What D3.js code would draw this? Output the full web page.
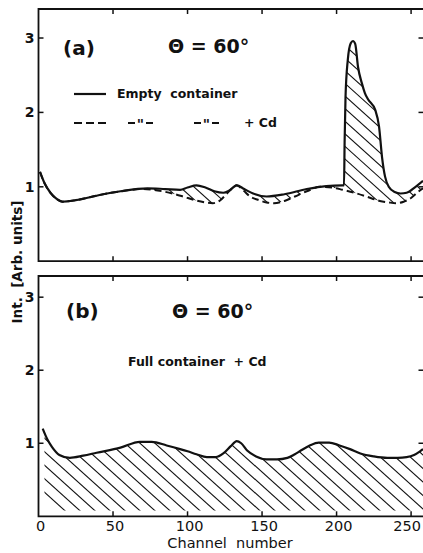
<!DOCTYPE html>
<html>
<head>
<meta charset="utf-8">
<script src="https://cdn.jsdelivr.net/npm/d3@7"></script>
<style>
  body { margin: 0; background: #fff; }
  text { font-family: 'DejaVu Sans', sans-serif; fill: #111; }
</style>
</head>
<body>
<svg id="chart" width="423" height="553"></svg>
<script>
// (a) empty container, solid curve
var emptyCh  = [1, 4, 8, 12, 16, 25, 41, 55, 73, 85, 95, 100, 106, 112, 118, 124, 128, 133, 138, 144, 153, 165, 180, 193, 204,
                205, 205.4, 206, 207.5, 209.5, 211, 212.5, 214.4, 217, 219, 221, 226, 228.5, 230.5, 232.5, 235, 239, 243, 247, 253, 258];
var emptyVal = [1.20, 1.05, 0.92, 0.84, 0.80, 0.82, 0.89, 0.94, 0.98, 0.97, 0.96, 0.99, 1.02, 0.99, 0.94, 0.92, 0.95, 1.02, 0.97, 0.91, 0.87, 0.90, 0.97, 1.01, 1.02,
                1.02, 1.60, 2.20, 2.70, 2.93, 2.96, 2.92, 2.61, 2.39, 2.26, 2.18, 2.03, 1.81, 1.40, 1.14, 1.00, 0.93, 0.91, 0.92, 1.00, 1.08];
// (a) empty container + Cd, dashed curve
var cdCh  = [1, 4, 8, 12, 16, 25, 41, 55, 70, 80, 90, 97, 105, 112, 117, 122, 126, 130, 133, 137, 142, 148, 153, 158, 165, 172, 180, 189, 197, 204, 212, 220, 229, 235, 240, 245, 250, 254, 258];
var cdVal = [1.20, 1.05, 0.92, 0.84, 0.80, 0.82, 0.89, 0.94, 0.97, 0.95, 0.91, 0.87, 0.82, 0.79, 0.78, 0.82, 0.90, 0.98, 1.02, 0.96, 0.87, 0.82, 0.79, 0.78, 0.81, 0.87, 0.94, 1.00, 0.99, 0.96, 0.92, 0.87, 0.81, 0.79, 0.78, 0.80, 0.85, 0.92, 0.98];
// (b) full container + Cd
var fullCh  = [2.8, 6, 9, 14, 21, 30, 39, 55, 68, 76, 86, 95, 100, 106, 113, 119, 124, 129, 133, 136, 140, 146, 153, 160, 167, 172, 176, 182, 188, 195, 202, 209, 216, 225, 234, 241, 247, 252, 256, 258];
var fullVal = [1.20, 1.05, 0.95, 0.84, 0.80, 0.83, 0.87, 0.94, 1.02, 1.02, 0.97, 0.92, 0.89, 0.85, 0.81, 0.81, 0.86, 0.96, 1.03, 1.00, 0.90, 0.82, 0.78, 0.78, 0.80, 0.85, 0.90, 0.97, 1.01, 1.01, 0.97, 0.92, 0.86, 0.82, 0.80, 0.80, 0.81, 0.84, 0.89, 0.92];

var xTicks = [0, 50, 100, 150, 200, 250];
var yTicks = [1, 2, 3];

var svg = d3.select('#chart');
var x = d3.scaleLinear().domain([0, 259]).range([38.5, 424.5]);
var yA = d3.scaleLinear().domain([0, 3.39]).range([261.2, 9]);
var yB = d3.scaleLinear().domain([0, 3.29]).range([516.3, 276]);
var sp = '\u00a0';

function pts(ch, val){ return ch.map(function(c, i){ return [c, val[i]]; }); }

function drawFrame(y, showXLabels){
  var g = svg.append('g');
  var r = y.range();
  g.append('path')
    .attr('d', 'M' + x.range()[1] + ',' + r[1] + 'H' + x(0) + 'V' + r[0] + 'H' + x.range()[1])
    .attr('fill', 'none').attr('stroke', '#111').attr('stroke-width', 1.8);
  xTicks.filter(function(t){ return t > 0; }).forEach(function(t){
    g.append('line').attr('x1', x(t)).attr('x2', x(t)).attr('y1', r[1]).attr('y2', r[1] + 5)
      .attr('stroke', '#111').attr('stroke-width', 1.5);
    g.append('line').attr('x1', x(t)).attr('x2', x(t)).attr('y1', r[0]).attr('y2', r[0] - 5)
      .attr('stroke', '#111').attr('stroke-width', 1.5);
  });
  yTicks.forEach(function(t){
    g.append('line').attr('x1', x(0)).attr('x2', x(0) + 5).attr('y1', y(t)).attr('y2', y(t))
      .attr('stroke', '#111').attr('stroke-width', 1.5);
    g.append('line').attr('x1', x.range()[1] - 6).attr('x2', x.range()[1]).attr('y1', y(t)).attr('y2', y(t))
      .attr('stroke', '#111').attr('stroke-width', 1.5);
    g.append('text').attr('x', x(0) - 4).attr('y', y(t) + 5).attr('text-anchor', 'end')
      .attr('font-size', 14).attr('font-weight', 'bold').text(t);
  });
  if (showXLabels){
    xTicks.forEach(function(t){
      var last = t === xTicks[xTicks.length - 1];
      g.append('text').attr('x', last ? 421 : x(t) + 2).attr('y', 531)
        .attr('text-anchor', last ? 'end' : 'middle')
        .attr('font-size', 14.5).text(t);
    });
  }
}

function hatch(clipId, y, x0, x1, step){
  var r = y.range();
  var g = svg.append('g').attr('clip-path', 'url(#' + clipId + ')');
  var h = r[0] - r[1];
  for (var k = x0 - h; k < x1; k += step){
    g.append('line').attr('x1', k).attr('y1', r[1]).attr('x2', k + h / 0.9).attr('y2', r[0])
      .attr('stroke', '#111').attr('stroke-width', 1.1);
  }
}

var defs = svg.append('defs');

// ---- panel (a)
var lineA = d3.line().x(function(d){ return x(d[0]); }).y(function(d){ return yA(d[1]); }).curve(d3.curveMonotoneX);
var underA = d3.area().x(function(d){ return x(d[0]); }).y0(yA(0)).y1(function(d){ return yA(d[1]); }).curve(d3.curveMonotoneX);

defs.append('clipPath').attr('id', 'clipA').append('path').attr('d', underA(pts(emptyCh, emptyVal)));
hatch('clipA', yA, x(0), 430, 14);
// blank out the part under the Cd curve
svg.append('path').attr('d', underA(pts(cdCh, cdVal))).attr('fill', '#fff');

svg.append('path').attr('d', lineA(pts(cdCh, cdVal))).attr('fill', 'none')
  .attr('stroke', '#111').attr('stroke-width', 2).attr('stroke-dasharray', '7,4');
svg.append('path').attr('d', lineA(pts(emptyCh, emptyVal))).attr('fill', 'none')
  .attr('stroke', '#111').attr('stroke-width', 2.2);
drawFrame(yA, false);

// ---- panel (b)
var underB = d3.area().x(function(d){ return x(d[0]); }).y0(yB(0.08)).y1(function(d){ return yB(d[1]); }).curve(d3.curveMonotoneX);
var lineB = d3.line().x(function(d){ return x(d[0]); }).y(function(d){ return yB(d[1]); }).curve(d3.curveMonotoneX);
var clipB = defs.append('clipPath').attr('id', 'clipB');
clipB.append('path').attr('d', underB(pts(fullCh, fullVal)));
hatch('clipB', yB, x(4), 430, 15);
svg.append('rect').attr('x', x(0)).attr('y', yB.range()[1]).attr('width', x(4) - x(0)).attr('height', yB.range()[0] - yB.range()[1]).attr('fill', '#fff');
svg.append('path').attr('d', lineB(pts(fullCh, fullVal))).attr('fill', 'none')
  .attr('stroke', '#111').attr('stroke-width', 2.2);
drawFrame(yB, true);

// ---- texts
svg.append('text').attr('x', 63).attr('y', 55).attr('font-size', 20).attr('font-weight', 'bold').text('(a)');
svg.append('text').attr('x', 168).attr('y', 53).attr('font-size', 19).attr('font-weight', 'bold').text('Θ = 60°');
svg.append('line').attr('x1', 74).attr('x2', 106).attr('y1', 94).attr('y2', 94).attr('stroke', '#111').attr('stroke-width', 2.2);
svg.append('text').attr('x', 117).attr('y', 98).attr('font-size', 12.5).attr('font-weight', 'bold').text('Empty' + sp + sp + 'container');
svg.append('line').attr('x1', 74).attr('x2', 106).attr('y1', 123).attr('y2', 123).attr('stroke', '#111').attr('stroke-width', 2).attr('stroke-dasharray', '8,4');
[128, 194].forEach(function(x0){
  svg.append('line').attr('x1', x0).attr('x2', x0 + 7).attr('y1', 123).attr('y2', 123).attr('stroke', '#111').attr('stroke-width', 2);
  svg.append('line').attr('x1', x0 + 18).attr('x2', x0 + 25).attr('y1', 123).attr('y2', 123).attr('stroke', '#111').attr('stroke-width', 2);
  svg.append('text').attr('x', x0 + 12.5).attr('y', 129).attr('text-anchor', 'middle')
    .attr('font-size', 14).attr('font-weight', 'bold').text('"');
});
svg.append('text').attr('x', 244).attr('y', 127).attr('font-size', 12.5).attr('font-weight', 'bold').text('+' + sp + 'Cd');

svg.append('text').attr('x', 66).attr('y', 318).attr('font-size', 20).attr('font-weight', 'bold').text('(b)');
svg.append('text').attr('x', 172).attr('y', 318).attr('font-size', 19).attr('font-weight', 'bold').text('Θ = 60°');
svg.append('text').attr('x', 128).attr('y', 366).attr('font-size', 12.5).attr('font-weight', 'bold').text('Full' + sp + 'container' + sp + sp + '+' + sp + 'Cd');

svg.append('text').attr('transform', 'translate(22,262) rotate(-90)').attr('text-anchor', 'middle')
  .attr('font-size', 13.5).attr('font-weight', 'bold').text('Int.' + sp + sp + '[Arb.' + sp + 'units]');
svg.append('text').attr('x', 230).attr('y', 548).attr('text-anchor', 'middle').attr('font-size', 14.5).text('Channel' + sp + sp + 'number');
</script>
</body>
</html>
